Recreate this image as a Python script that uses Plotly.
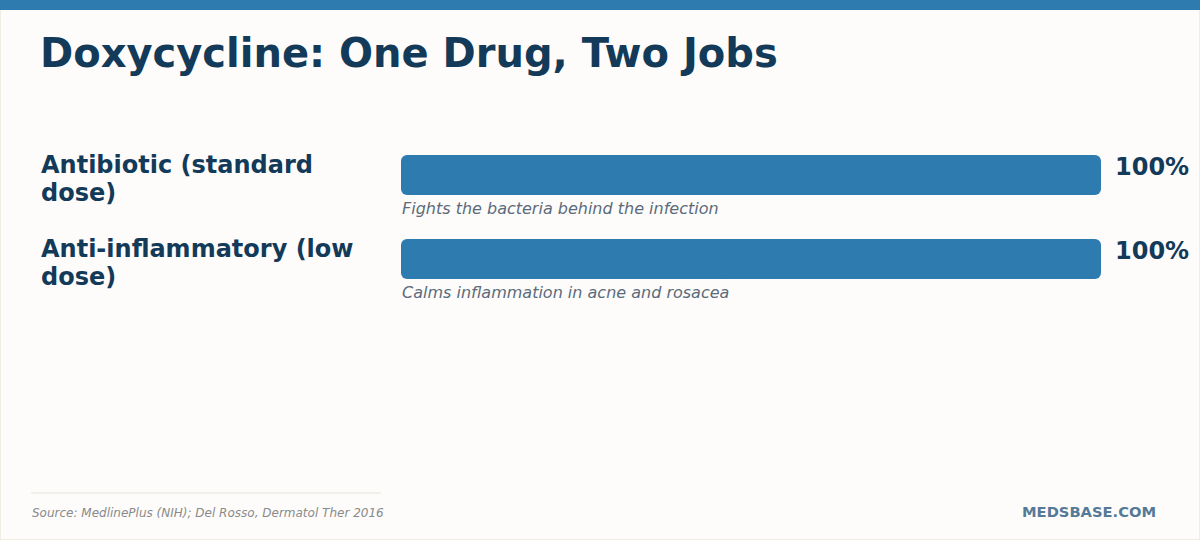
import plotly.graph_objects as go

categories = ["Antibiotic (standard<br>dose)", "Anti-inflammatory (low<br>dose)"]
values = [100, 100]
value_labels = ["100%", "100%"]
subtexts = ["Fights the bacteria behind the infection", "Calms inflammation in acne and rosacea"]

W, H = 1200, 540
NAVY = "#133A59"
BLUE = "#2E7BB0"
FONT = "DejaVu Sans"

# pixel geometry
bar_left, bar_right = 401, 1101
first_center, spacing = 175, 84
y_top = -first_center / spacing
y_bot = (H - first_center) / spacing
bar_w = 40 / spacing

ys = list(range(len(values)))

fig = go.Figure()
# Each bar drawn as two overlapping halves so that both ends get rounded corners
fig.add_trace(go.Bar(
    x=[-v * 0.55 for v in values], base=[v * 0.55 for v in values], y=ys,
    orientation="h", width=bar_w,
    marker=dict(color=BLUE, line=dict(width=0)),
    hoverinfo="skip", showlegend=False,
))
fig.add_trace(go.Bar(
    x=[v * 0.55 for v in values], base=[v * 0.45 for v in values], y=ys,
    orientation="h", width=bar_w,
    marker=dict(color=BLUE, line=dict(width=0)),
    hoverinfo="skip", showlegend=False,
))

annotations = []
for i, (cat, val, vl, sub) in enumerate(zip(categories, values, value_labels, subtexts)):
    for j, line in enumerate(cat.split("<br>")):
        annotations.append(dict(
            text=line, xref="paper", yref="y", x=39 / W, y=i, xanchor="left", yanchor="top",
            yshift=26 - j * 27.5, showarrow=False, align="left",
            font=dict(family=FONT, size=24, color=NAVY, weight="bold"),
        ))
    annotations.append(dict(
        text=vl, xref="x", yref="y", x=val, y=i, xanchor="left", yanchor="middle",
        xshift=12, yshift=8, showarrow=False,
        font=dict(family=FONT, size=24, color=NAVY, weight="bold"),
    ))
    annotations.append(dict(
        text=sub, xref="x", yref="y", x=0, y=i, xanchor="left", yanchor="middle",
        xshift=-1, yshift=-33, showarrow=False,
        font=dict(family=FONT, size=16, color="#5B6B7B", style="italic"),
    ))

annotations.append(dict(
    text="Doxycycline: One Drug, Two Jobs", xref="paper", yref="paper",
    x=38 / W, y=1 - 53 / H, xanchor="left", yanchor="middle", showarrow=False,
    font=dict(family=FONT, size=40, color=NAVY, weight="bold"),
))
annotations.append(dict(
    text="Source: MedlinePlus (NIH); Del Rosso, Dermatol Ther 2016", xref="paper", yref="paper",
    x=30 / W, y=1 - 513 / H, xanchor="left", yanchor="middle", showarrow=False,
    font=dict(family=FONT, size=12, color="#8A8A8A", style="italic"),
))
annotations.append(dict(
    text="MEDSBASE.COM", xref="paper", yref="paper",
    x=1158 / W, y=1 - 511 / H, xanchor="right", yanchor="middle", showarrow=False,
    font=dict(family=FONT, size=14.7, color="#557A98", weight="bold"),
))

shapes = [
    dict(type="rect", xref="paper", yref="paper", x0=0, x1=1, y0=0, y1=1,
         line=dict(color="#E3DFCB", width=1), fillcolor="rgba(0,0,0,0)", layer="below"),
    dict(type="rect", xref="paper", yref="paper", x0=0, x1=1, y0=1 - 10 / H, y1=1,
         line=dict(width=0), fillcolor=BLUE),
    dict(type="line", xref="paper", yref="paper", x0=31 / W, x1=381 / W,
         y0=1 - 493 / H, y1=1 - 493 / H, line=dict(color="#E6E3DC", width=1)),
]

fig.update_layout(
    width=W, height=H,
    margin=dict(l=0, r=0, t=0, b=0),
    paper_bgcolor="#FDFCFA", plot_bgcolor="rgba(0,0,0,0)",
    barmode="overlay",
    barcornerradius=6,
    xaxis=dict(domain=[bar_left / W, bar_right / W], range=[0, 100], visible=False, fixedrange=True),
    yaxis=dict(domain=[0, 1], range=[y_bot, y_top], visible=False, fixedrange=True),
    annotations=annotations, shapes=shapes,
    font=dict(family=FONT),
)

fig.write_html(
    "out.html",
    config={"displayModeBar": False},
    post_script="document.body.style.margin='0';document.body.style.overflow='hidden';",
)
